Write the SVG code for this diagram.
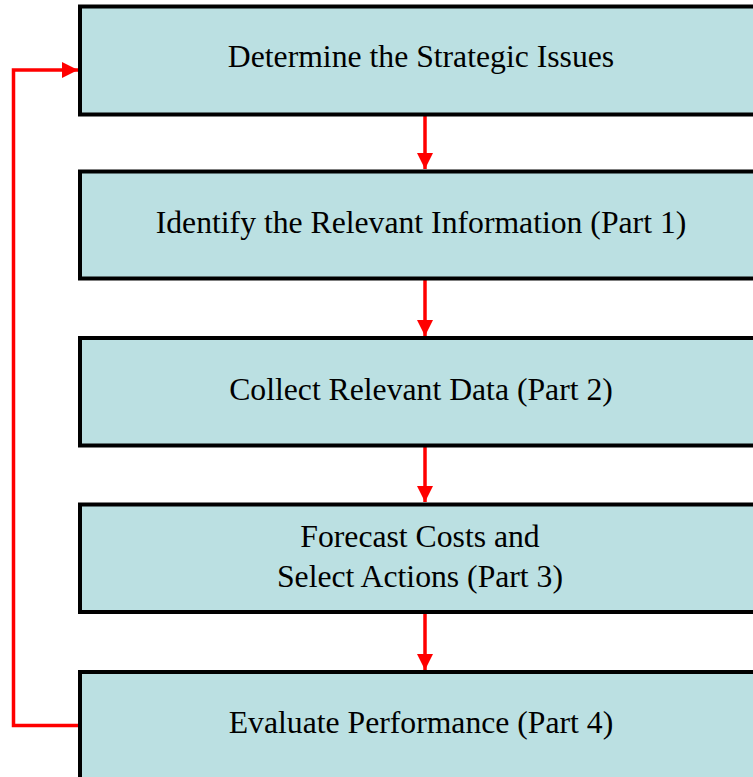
<svg xmlns="http://www.w3.org/2000/svg" width="753" height="777" viewBox="0 0 753 777">
<style>
.box{fill:#BBE0E2;stroke:#000;stroke-width:4}
.lbl{font-family:"Liberation Serif","Times New Roman",serif;font-size:31.7px;fill:#000;text-anchor:middle}
.con{fill:none;stroke:#FF0000;stroke-width:3.5}
</style>
<defs>
<marker id="ah" viewBox="0 0 16 16" refX="16" refY="8" markerWidth="16" markerHeight="16" markerUnits="userSpaceOnUse" orient="auto">
<path d="M0,0 L16,8 L0,16 Z" fill="#FF0000"/>
</marker>
</defs>
<rect width="753" height="777" fill="#fff"/>
<g id="connectors">
<line class="con" x1="425" y1="116" x2="425" y2="169" marker-end="url(#ah)"/>
<line class="con" x1="425" y1="280" x2="425" y2="336" marker-end="url(#ah)"/>
<line class="con" x1="425" y1="447" x2="425" y2="502" marker-end="url(#ah)"/>
<line class="con" x1="425" y1="614" x2="425" y2="670" marker-end="url(#ah)"/>
<polyline class="con" points="80,725.5 13.5,725.5 13.5,70 78,70" marker-end="url(#ah)"/>
</g>
<g id="n1">
<rect class="box" x="80" y="6.5" width="700" height="108"/>
<text class="lbl" x="421" y="67">Determine the Strategic Issues</text>
</g>
<g id="n2">
<rect class="box" x="80" y="171.5" width="700" height="107"/>
<text class="lbl" x="421" y="233">Identify the Relevant Information (Part 1)</text>
</g>
<g id="n3">
<rect class="box" x="80" y="338" width="700" height="107.5"/>
<text class="lbl" x="421" y="400">Collect Relevant Data (Part 2)</text>
</g>
<g id="n4">
<rect class="box" x="80" y="504.5" width="700" height="107.5"/>
<text class="lbl" x="420" y="547">Forecast Costs and</text>
<text class="lbl" x="420" y="587">Select Actions (Part 3)</text>
</g>
<g id="n5">
<rect class="box" x="80" y="672" width="700" height="110"/>
<text class="lbl" x="421" y="733">Evaluate Performance (Part 4)</text>
</g>
</svg>
